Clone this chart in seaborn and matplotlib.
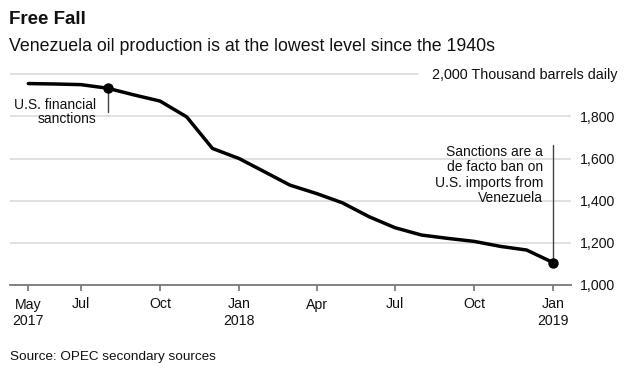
import matplotlib
matplotlib.use("Agg")
import matplotlib.pyplot as plt
import matplotlib.transforms as mtransforms
import seaborn as sns
import pandas as pd

# ---- data ----
months = pd.date_range("2017-05-01", "2019-01-01", freq="MS")
production = [1956, 1954, 1951, 1934, 1902, 1873, 1798, 1648, 1600, 1534, 1474,
              1434, 1390, 1324, 1272, 1237, 1221, 1207, 1183, 1166, 1106]
tick_dates = pd.to_datetime(["2017-05-01", "2017-07-01", "2017-10-01", "2018-01-01",
                             "2018-04-01", "2018-07-01", "2018-10-01", "2019-01-01"])
tick_labels = ["May\n2017", "Jul", "Oct", "Jan\n2018", "Apr", "Jul", "Oct", "Jan\n2019"]
y_ticks = [1000, 1200, 1400, 1600, 1800]
y_labels = ["1,000", "1,200", "1,400", "1,600", "1,800"]
top_label = "2,000 Thousand barrels daily"
title = "Free Fall"
subtitle = "Venezuela oil production is at the lowest level since the 1940s"
source = "Source: OPEC secondary sources"
note1_date, note1_text = pd.Timestamp("2017-08-01"), "U.S. financial\nsanctions"
note2_date, note2_text = pd.Timestamp("2019-01-01"), "Sanctions are a\nde facto ban on\nU.S. imports from\nVenezuela"

df = pd.DataFrame({"month": months, "production": production})

sns.set_theme(style="white")
plt.rcParams["font.family"] = ["Liberation Sans", "DejaVu Sans"]

W, H = 624, 370
fig = plt.figure(figsize=(W / 100, H / 100), dpi=100)
ax_left, ax_right = 10, 571
y0px = 285
ppu = (285 - 74.3) / 1000.0
ymax = 2050
top_px = y0px - (ymax - 1000) * ppu
ax = fig.add_axes([ax_left / W, (H - y0px) / H, (ax_right - ax_left) / W, (y0px - top_px) / H])

def px2val(py):
    return 1000 + (y0px - py) / ppu

# gridlines
grid_c = "#dedede"
for yv in [1200, 1400, 1600, 1800]:
    ax.axhline(yv, color=grid_c, lw=1.3, zorder=0)
ax.axhline(2000, xmin=0, xmax=(418 - ax_left) / (ax_right - ax_left), color=grid_c, lw=1.3, zorder=0)

sns.lineplot(data=df, x="month", y="production", ax=ax, color="black", lw=2.5, zorder=3)

# marker dots
for d in [note1_date, note2_date]:
    v = df.loc[df["month"] == d, "production"].iloc[0]
    ax.plot([d], [v], "o", color="black", ms=6.5, zorder=4)

# annotation 1
v1 = df.loc[df["month"] == note1_date, "production"].iloc[0]
ax.plot([note1_date, note1_date], [v1, px2val(112)], color="#444444", lw=1.0, zorder=2)
ax.text(note1_date - pd.Timedelta(days=13), px2val(123.5), note1_text,
        ha="right", va="baseline", fontsize=10, color="#111111", linespacing=1.05,
        multialignment="right")
# annotation 2
v2 = df.loc[df["month"] == note2_date, "production"].iloc[0]
ax.plot([note2_date, note2_date], [v2, px2val(145)], color="#444444", lw=1.0, zorder=2)
ax.text(note2_date - pd.Timedelta(days=12), px2val(145), note2_text,
        ha="right", va="top", fontsize=10, color="#111111", linespacing=1.12,
        multialignment="right")

xmin = pd.Timestamp("2017-05-01") - pd.Timedelta(days=21.3)
xmax = pd.Timestamp("2019-01-01") + pd.Timedelta(days=20.6)
ax.set_xlim(xmin, xmax)
ax.set_ylim(1000, ymax)

ax.set_xticks(tick_dates)
ax.set_xticklabels(tick_labels)
ax.set_yticks(y_ticks)
ax.set_yticklabels(y_labels)
ax.yaxis.tick_right()
ax.tick_params(axis="y", length=0, pad=6.5, labelsize=10.2, labelcolor="#111111")
ax.tick_params(axis="x", length=4, width=1.1, color="#666666", direction="out", pad=5,
               labelsize=10.2, labelcolor="#111111", bottom=True)
ax.set_xlabel("")
ax.set_ylabel("")
for s in ["top", "left", "right"]:
    ax.spines[s].set_visible(False)
ax.spines["bottom"].set_color("#777777")
ax.spines["bottom"].set_linewidth(1.3)

blend = mtransforms.blended_transform_factory(fig.transFigure, ax.transData)
ax.text(618 / W, px2val(79), top_label, transform=blend,
        ha="right", va="baseline", fontsize=10.4, color="#111111")

fig.text(9 / W, (H - 24) / H, title, fontsize=13.5, fontweight="bold", color="#111111", va="baseline")
fig.text(9 / W, (H - 51) / H, subtitle, fontsize=12.8, color="#111111", va="baseline")
fig.text(10 / W, (H - 360) / H, source, fontsize=9.7, color="#111111", va="baseline")

fig.savefig("out.png", dpi=100, facecolor="white")
